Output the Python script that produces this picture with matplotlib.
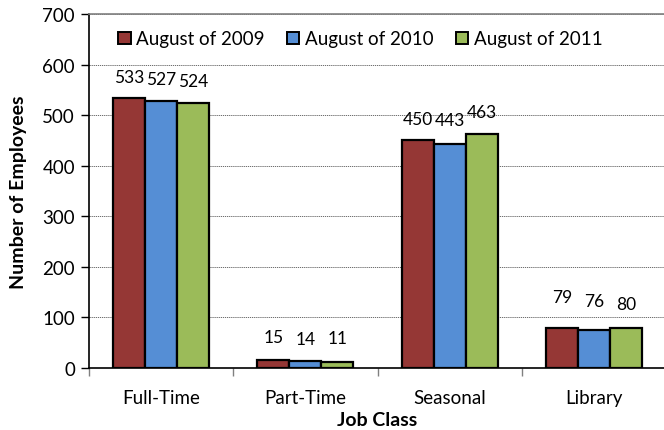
import matplotlib
matplotlib.use("Agg")
import matplotlib.pyplot as plt
import numpy as np
from matplotlib.patches import Patch

plt.rcParams['font.family'] = ['Lato', 'DejaVu Sans']

categories = ["Full-Time", "Part-Time", "Seasonal", "Library"]
series_names = ["August of 2009", "August of 2010", "August of 2011"]
aug_2009 = [533, 15, 450, 79]
aug_2010 = [527, 14, 443, 76]
aug_2011 = [524, 11, 463, 80]
y_ticks = [0, 100, 200, 300, 400, 500, 600, 700]

colors = ["#953735", "#558ED5", "#9BBB59"]
# vertical gap (px) between each bar top and its value label
label_gap = [
    [21, 23, 21, 31],
    [22, 22, 24, 29],
    [22, 24, 22, 24],
]

W, H = 664, 431
fig = plt.figure(figsize=(W / 100, H / 100), dpi=100)
ax = fig.add_axes([89 / W, 1 - 369 / H, 577 / W, 354 / H])

x = np.arange(len(categories))
bw = 0.222
for i, vals in enumerate([aug_2009, aug_2010, aug_2011]):
    xs = x + (i - 1) * bw
    ax.bar(xs, vals, width=bw, color=colors[i], edgecolor="black",
           linewidth=1.6, zorder=3)
    for j, (xx, v) in enumerate(zip(xs, vals)):
        ax.annotate(str(v), (xx, v), xytext=(0, label_gap[i][j] * 0.72),
                    textcoords="offset points", ha="center", va="center",
                    fontsize=12.5, color="black")

ax.set_xlim(-0.5, len(categories) - 0.5)
ax.set_ylim(0, 700)
ax.set_yticks(y_ticks)
ax.set_yticklabels([str(t) for t in y_ticks], fontsize=13.5)
ax.yaxis.grid(True, linestyle=(0, (1.5, 1)), color="#555555", linewidth=0.6, zorder=0)

ax.set_xticks(np.arange(-0.5, len(categories) + 0.5, 1.0))
ax.set_xticklabels([])
ax.set_xticks(x, minor=True)
ax.set_xticklabels(categories, minor=True, fontsize=13.5)
ax.tick_params(axis="x", which="major", length=6, color="#808080", width=1)
ax.tick_params(axis="x", which="minor", length=0, pad=15)
ax.tick_params(axis="y", length=6, width=1, color="black", pad=4)

ax.spines["left"].set_color("black")
ax.spines["left"].set_linewidth(1.2)
ax.spines["bottom"].set_color("black")
ax.spines["bottom"].set_linewidth(1.2)
ax.spines["top"].set_color("#808080")
ax.spines["top"].set_linewidth(1.2)
ax.spines["right"].set_visible(False)

ax.set_ylabel("Number of Employees", fontsize=14, fontweight="bold", labelpad=11)
ax.set_xlabel("Job Class", fontsize=14, fontweight="bold", labelpad=4)

handles = [Patch(facecolor=c, edgecolor="black", linewidth=1.4) for c in colors]
ax.legend(handles, series_names, loc="upper left", bbox_to_anchor=(0.038, 0.975),
          ncol=3, frameon=False, fontsize=13.5, handlelength=0.65, handleheight=0.65,
          handletextpad=0.3, columnspacing=1.2, borderaxespad=0)

fig.savefig("out.png", dpi=100)
